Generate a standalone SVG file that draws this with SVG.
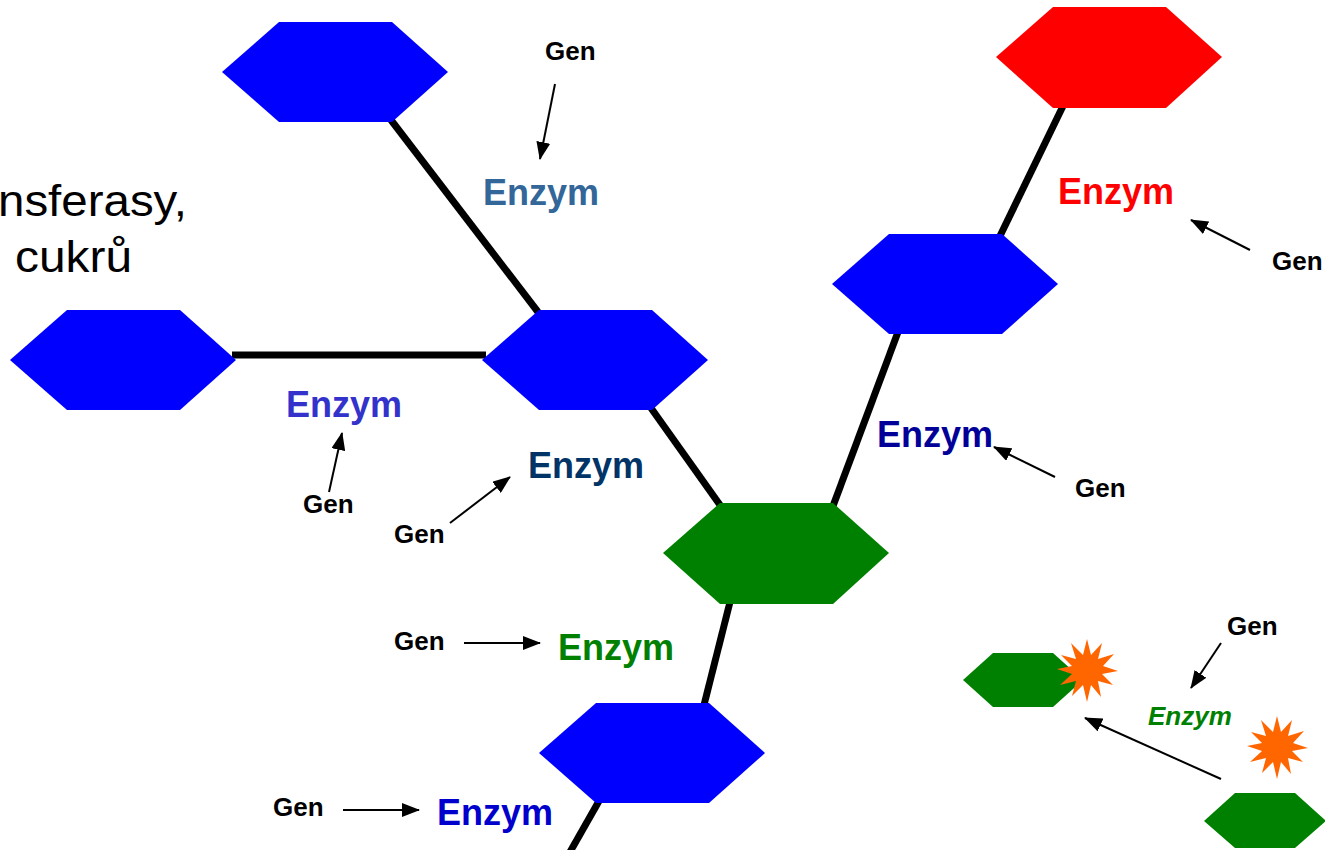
<svg xmlns="http://www.w3.org/2000/svg" xmlns:xlink="http://www.w3.org/1999/xlink" width="1325" height="850" viewBox="0 0 1325 850">
<style>
.blue{fill:#0000FF}
.green{fill:#008000}
.red{fill:#FF0000}
.bond{stroke:#000;stroke-width:7;fill:none}
.arr{stroke:#000;stroke-width:2;fill:none;marker-end:url(#ah)}
.gen{font-family:"Liberation Sans",Arial,sans-serif;font-weight:bold;font-size:26px;fill:#000}
.enz{font-family:"Liberation Sans",Arial,sans-serif;font-weight:bold;font-size:36px}
.title{font-family:"Liberation Sans",Arial,sans-serif;font-size:45px;fill:#000}
.burst{fill:#FF6600}
</style>
<defs>
<marker id="ah" markerUnits="userSpaceOnUse" markerWidth="18" markerHeight="14" refX="17" refY="7" orient="auto">
<path d="M0,0 L18,7 L0,14 z" fill="#000"/>
</marker>
<polygon id="burstShape" points="0,-31 4,-15 15,-27 11,-11 27,-16 16,-4 31,1 15,4 26,15 11,11 14,27 4,15 0,32 -4,15 -15,26 -11,11 -27,15 -15,4 -30,-1 -15,-4 -26,-15 -11,-11 -16,-27 -4,-15"/>
</defs>

<g id="title">
<text class="title" x="-2" y="216" textLength="189" lengthAdjust="spacingAndGlyphs">nsferasy,</text>
<text class="title" x="15" y="272" textLength="117" lengthAdjust="spacingAndGlyphs">cukrů</text>
</g>

<g id="connectors">
<line class="bond" x1="391" y1="120" x2="538" y2="312"/>
<line class="bond" x1="232" y1="355" x2="486" y2="355"/>
<line class="bond" x1="651" y1="408" x2="720" y2="505"/>
<line class="bond" x1="833" y1="506" x2="898" y2="332"/>
<line class="bond" x1="1000" y1="236" x2="1063" y2="106"/>
<line class="bond" x1="730" y1="602" x2="704" y2="705"/>
<line class="bond" x1="599" y1="801" x2="570" y2="852"/>
<line class="arr" x1="555" y1="84" x2="540" y2="159"/>
<line class="arr" x1="1250" y1="250" x2="1191" y2="220"/>
<line class="arr" x1="329" y1="492" x2="342" y2="433"/>
<line class="arr" x1="450" y1="523" x2="510" y2="477"/>
<line class="arr" x1="1055" y1="477" x2="994" y2="447"/>
<line class="arr" x1="464" y1="643" x2="540" y2="643"/>
<line class="arr" x1="343" y1="810" x2="419" y2="810"/>
<line class="arr" x1="1221" y1="643" x2="1191" y2="688"/>
<line class="arr" x1="1221" y1="779" x2="1085" y2="718"/>
</g>

<g id="hex-top-left"><polygon class="blue" points="222,72 279,22 392,22 448,72 392,122 279,122"/></g>
<g id="hex-left"><polygon class="blue" points="10,360 67,310 180,310 236,360 180,410 67,410"/></g>
<g id="hex-middle"><polygon class="blue" points="482,360 539,310 652,310 708,360 652,410 539,410"/></g>
<g id="hex-green"><polygon class="green" points="663,553 720,503 833,503 889,553 833,604 720,604"/></g>
<g id="hex-bottom"><polygon class="blue" points="539,753 596,703 709,703 765,753 709,803 596,803"/></g>
<g id="hex-upper-right"><polygon class="blue" points="832,284 889,234 1002,234 1058,284 1002,334 889,334"/></g>
<g id="hex-red"><polygon class="red" points="996,57 1053,7 1166,7 1222,57 1166,108 1053,108"/></g>
<g id="hex-small-green"><polygon class="green" points="963,680 993,653 1053,653 1083,680 1053,707 993,707"/></g>
<g id="hex-corner-green"><polygon class="green" points="1204,821 1235,793 1295,793 1326,821 1295,848 1235,848"/></g>
<g id="burst-1"><use xlink:href="#burstShape" class="burst" transform="translate(1087,670)"/></g>
<g id="burst-2"><use xlink:href="#burstShape" class="burst" transform="translate(1277,747)"/></g>

<g id="labels">
<text class="enz" x="483" y="205" fill="#336699">Enzym</text>
<text class="gen" x="545" y="60">Gen</text>
<text class="enz" x="1058" y="204" fill="#FF0000">Enzym</text>
<text class="gen" x="1272" y="270">Gen</text>
<text class="enz" x="286" y="417" fill="#3333CC">Enzym</text>
<text class="gen" x="303" y="513">Gen</text>
<text class="enz" x="528" y="478" fill="#003366">Enzym</text>
<text class="gen" x="394" y="543">Gen</text>
<text class="enz" x="877" y="447" fill="#000099">Enzym</text>
<text class="gen" x="1075" y="497">Gen</text>
<text class="enz" x="558" y="660" fill="#008000">Enzym</text>
<text class="gen" x="394" y="650">Gen</text>
<text class="enz" x="437" y="825" fill="#0000CC">Enzym</text>
<text class="gen" x="273" y="816">Gen</text>
<text class="gen" x="1227" y="635">Gen</text>
<text class="enz" x="1148" y="725" fill="#008000" font-style="italic" style="font-size:26px">Enzym</text>
</g>
</svg>
